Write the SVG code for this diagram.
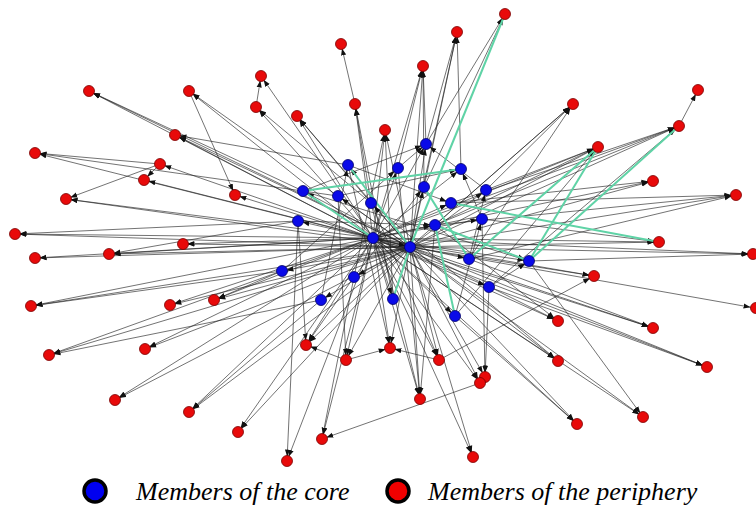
<svg xmlns="http://www.w3.org/2000/svg" width="756" height="509" viewBox="0 0 756 509">
<defs>
<marker id="a" markerUnits="userSpaceOnUse" markerWidth="13" markerHeight="6" refX="11.5" refY="3" orient="auto"><path d="M0,0.4 L7,3 L0,5.6 z" fill="#111"/></marker>
<style>
.e line{stroke:#222;stroke-width:.75;stroke-opacity:.85;marker-end:url(#a)}
.g line{stroke:#5fd3a6;stroke-width:2}
.c{fill:#0a0ae8;stroke:#00006a;stroke-width:.8}
.p{fill:#e80a0a;stroke:#7a0000;stroke-width:.8}
.lt{font-family:"Liberation Serif","Times New Roman",serif;font-style:italic;font-size:26px;fill:#000}
</style>
</defs>
<rect width="756" height="509" fill="#fff"/>
<g id="connectors">
<g class="e">
<line x1="426" y1="144" x2="505" y2="14"/>
<line x1="424" y1="187" x2="505" y2="14"/>
<line x1="426" y1="144" x2="457" y2="32"/>
<line x1="424" y1="187" x2="457" y2="32"/>
<line x1="410" y1="247" x2="457" y2="32"/>
<line x1="461" y1="169" x2="457" y2="32"/>
<line x1="355" y1="104" x2="341" y2="44"/>
<line x1="426" y1="144" x2="423" y2="66"/>
<line x1="398" y1="168" x2="423" y2="66"/>
<line x1="424" y1="187" x2="423" y2="66"/>
<line x1="410" y1="247" x2="423" y2="66"/>
<line x1="373" y1="238" x2="423" y2="66"/>
<line x1="373" y1="238" x2="261" y2="76"/>
<line x1="256" y1="107" x2="261" y2="76"/>
<line x1="373" y1="238" x2="89" y2="91"/>
<line x1="410" y1="247" x2="89" y2="91"/>
<line x1="303" y1="191" x2="89" y2="91"/>
<line x1="373" y1="238" x2="189" y2="91"/>
<line x1="410" y1="247" x2="189" y2="91"/>
<line x1="373" y1="238" x2="256" y2="107"/>
<line x1="371" y1="203" x2="256" y2="107"/>
<line x1="373" y1="238" x2="355" y2="104"/>
<line x1="371" y1="203" x2="355" y2="104"/>
<line x1="393" y1="299" x2="355" y2="104"/>
<line x1="410" y1="247" x2="573" y2="104"/>
<line x1="435" y1="225" x2="573" y2="104"/>
<line x1="469" y1="259" x2="573" y2="104"/>
<line x1="486" y1="190" x2="573" y2="104"/>
<line x1="679" y1="126" x2="698" y2="90"/>
<line x1="373" y1="238" x2="297" y2="116"/>
<line x1="410" y1="247" x2="297" y2="116"/>
<line x1="371" y1="203" x2="297" y2="116"/>
<line x1="373" y1="238" x2="385" y2="130"/>
<line x1="410" y1="247" x2="385" y2="130"/>
<line x1="393" y1="299" x2="385" y2="130"/>
<line x1="354" y1="277" x2="385" y2="130"/>
<line x1="373" y1="238" x2="175" y2="135"/>
<line x1="410" y1="247" x2="175" y2="135"/>
<line x1="348" y1="165" x2="175" y2="135"/>
<line x1="410" y1="247" x2="679" y2="126"/>
<line x1="373" y1="238" x2="679" y2="126"/>
<line x1="435" y1="225" x2="679" y2="126"/>
<line x1="451" y1="203" x2="679" y2="126"/>
<line x1="489" y1="287" x2="679" y2="126"/>
<line x1="410" y1="247" x2="598" y2="147"/>
<line x1="373" y1="238" x2="598" y2="147"/>
<line x1="435" y1="225" x2="598" y2="147"/>
<line x1="455" y1="316" x2="598" y2="147"/>
<line x1="486" y1="190" x2="598" y2="147"/>
<line x1="373" y1="238" x2="35" y2="153"/>
<line x1="160" y1="164" x2="35" y2="153"/>
<line x1="338" y1="196" x2="35" y2="153"/>
<line x1="373" y1="238" x2="160" y2="164"/>
<line x1="410" y1="247" x2="144" y2="180"/>
<line x1="160" y1="164" x2="144" y2="180"/>
<line x1="373" y1="238" x2="235" y2="195"/>
<line x1="189" y1="91" x2="235" y2="195"/>
<line x1="410" y1="247" x2="653" y2="181"/>
<line x1="373" y1="238" x2="653" y2="181"/>
<line x1="451" y1="203" x2="653" y2="181"/>
<line x1="410" y1="247" x2="736" y2="195"/>
<line x1="469" y1="259" x2="736" y2="195"/>
<line x1="435" y1="225" x2="736" y2="195"/>
<line x1="451" y1="203" x2="736" y2="195"/>
<line x1="373" y1="238" x2="66" y2="199"/>
<line x1="160" y1="164" x2="66" y2="199"/>
<line x1="410" y1="247" x2="66" y2="199"/>
<line x1="373" y1="238" x2="15" y2="234"/>
<line x1="410" y1="247" x2="15" y2="234"/>
<line x1="298" y1="221" x2="15" y2="234"/>
<line x1="373" y1="238" x2="183" y2="244"/>
<line x1="410" y1="247" x2="183" y2="244"/>
<line x1="410" y1="247" x2="659" y2="242"/>
<line x1="373" y1="238" x2="659" y2="242"/>
<line x1="482" y1="219" x2="659" y2="242"/>
<line x1="373" y1="238" x2="35" y2="258"/>
<line x1="410" y1="247" x2="35" y2="258"/>
<line x1="373" y1="238" x2="109" y2="254"/>
<line x1="410" y1="247" x2="109" y2="254"/>
<line x1="298" y1="221" x2="109" y2="254"/>
<line x1="410" y1="247" x2="753" y2="254"/>
<line x1="373" y1="238" x2="753" y2="254"/>
<line x1="529" y1="261" x2="753" y2="254"/>
<line x1="373" y1="238" x2="31" y2="306"/>
<line x1="410" y1="247" x2="31" y2="306"/>
<line x1="282" y1="271" x2="31" y2="306"/>
<line x1="373" y1="238" x2="170" y2="305"/>
<line x1="410" y1="247" x2="170" y2="305"/>
<line x1="373" y1="238" x2="214" y2="300"/>
<line x1="410" y1="247" x2="214" y2="300"/>
<line x1="282" y1="271" x2="214" y2="300"/>
<line x1="410" y1="247" x2="594" y2="276"/>
<line x1="373" y1="238" x2="594" y2="276"/>
<line x1="439" y1="360" x2="594" y2="276"/>
<line x1="410" y1="247" x2="755" y2="308"/>
<line x1="373" y1="238" x2="49" y2="355"/>
<line x1="410" y1="247" x2="49" y2="355"/>
<line x1="321" y1="300" x2="49" y2="355"/>
<line x1="373" y1="238" x2="145" y2="349"/>
<line x1="410" y1="247" x2="145" y2="349"/>
<line x1="373" y1="238" x2="306" y2="345"/>
<line x1="410" y1="247" x2="306" y2="345"/>
<line x1="298" y1="221" x2="306" y2="345"/>
<line x1="354" y1="277" x2="306" y2="345"/>
<line x1="346" y1="360" x2="306" y2="345"/>
<line x1="373" y1="238" x2="346" y2="360"/>
<line x1="410" y1="247" x2="346" y2="360"/>
<line x1="338" y1="196" x2="346" y2="360"/>
<line x1="373" y1="238" x2="390" y2="348"/>
<line x1="410" y1="247" x2="390" y2="348"/>
<line x1="346" y1="360" x2="390" y2="348"/>
<line x1="439" y1="360" x2="390" y2="348"/>
<line x1="348" y1="165" x2="390" y2="348"/>
<line x1="373" y1="238" x2="439" y2="360"/>
<line x1="410" y1="247" x2="439" y2="360"/>
<line x1="371" y1="203" x2="439" y2="360"/>
<line x1="410" y1="247" x2="558" y2="321"/>
<line x1="373" y1="238" x2="558" y2="321"/>
<line x1="435" y1="225" x2="558" y2="321"/>
<line x1="410" y1="247" x2="653" y2="328"/>
<line x1="373" y1="238" x2="653" y2="328"/>
<line x1="469" y1="259" x2="653" y2="328"/>
<line x1="410" y1="247" x2="558" y2="361"/>
<line x1="373" y1="238" x2="558" y2="361"/>
<line x1="371" y1="203" x2="558" y2="361"/>
<line x1="410" y1="247" x2="707" y2="367"/>
<line x1="373" y1="238" x2="707" y2="367"/>
<line x1="489" y1="287" x2="707" y2="367"/>
<line x1="373" y1="238" x2="115" y2="400"/>
<line x1="410" y1="247" x2="115" y2="400"/>
<line x1="373" y1="238" x2="189" y2="412"/>
<line x1="410" y1="247" x2="189" y2="412"/>
<line x1="321" y1="300" x2="189" y2="412"/>
<line x1="373" y1="238" x2="238" y2="432"/>
<line x1="410" y1="247" x2="238" y2="432"/>
<line x1="373" y1="238" x2="322" y2="439"/>
<line x1="354" y1="277" x2="322" y2="439"/>
<line x1="480" y1="383" x2="322" y2="439"/>
<line x1="298" y1="221" x2="287" y2="461"/>
<line x1="373" y1="238" x2="287" y2="461"/>
<line x1="373" y1="238" x2="420" y2="399"/>
<line x1="410" y1="247" x2="420" y2="399"/>
<line x1="398" y1="168" x2="420" y2="399"/>
<line x1="371" y1="203" x2="420" y2="399"/>
<line x1="435" y1="225" x2="420" y2="399"/>
<line x1="489" y1="287" x2="485" y2="377"/>
<line x1="410" y1="247" x2="485" y2="377"/>
<line x1="482" y1="219" x2="485" y2="377"/>
<line x1="373" y1="238" x2="480" y2="383"/>
<line x1="410" y1="247" x2="480" y2="383"/>
<line x1="410" y1="247" x2="473" y2="457"/>
<line x1="373" y1="238" x2="473" y2="457"/>
<line x1="410" y1="247" x2="643" y2="417"/>
<line x1="373" y1="238" x2="643" y2="417"/>
<line x1="410" y1="247" x2="577" y2="424"/>
<line x1="373" y1="238" x2="577" y2="424"/>
<line x1="455" y1="316" x2="577" y2="424"/>
<line x1="373" y1="238" x2="426" y2="144"/>
<line x1="410" y1="247" x2="426" y2="144"/>
<line x1="410" y1="247" x2="348" y2="165"/>
<line x1="373" y1="238" x2="398" y2="168"/>
<line x1="373" y1="238" x2="461" y2="169"/>
<line x1="410" y1="247" x2="424" y2="187"/>
<line x1="410" y1="247" x2="486" y2="190"/>
<line x1="410" y1="247" x2="303" y2="191"/>
<line x1="410" y1="247" x2="338" y2="196"/>
<line x1="410" y1="247" x2="371" y2="203"/>
<line x1="373" y1="238" x2="451" y2="203"/>
<line x1="410" y1="247" x2="298" y2="221"/>
<line x1="373" y1="238" x2="435" y2="225"/>
<line x1="373" y1="238" x2="482" y2="219"/>
<line x1="373" y1="238" x2="469" y2="259"/>
<line x1="373" y1="238" x2="529" y2="261"/>
<line x1="410" y1="247" x2="282" y2="271"/>
<line x1="410" y1="247" x2="354" y2="277"/>
<line x1="373" y1="238" x2="489" y2="287"/>
<line x1="410" y1="247" x2="321" y2="300"/>
<line x1="373" y1="238" x2="393" y2="299"/>
<line x1="373" y1="238" x2="455" y2="316"/>
<line x1="373" y1="238" x2="410" y2="247"/>
<line x1="303" y1="191" x2="426" y2="144"/>
<line x1="338" y1="196" x2="461" y2="169"/>
<line x1="398" y1="168" x2="426" y2="144"/>
<line x1="348" y1="165" x2="451" y2="203"/>
<line x1="486" y1="190" x2="426" y2="144"/>
<line x1="482" y1="219" x2="461" y2="169"/>
<line x1="435" y1="225" x2="529" y2="261"/>
<line x1="321" y1="300" x2="348" y2="165"/>
<line x1="282" y1="271" x2="398" y2="168"/>
<line x1="469" y1="259" x2="486" y2="190"/>
<line x1="455" y1="316" x2="482" y2="219"/>
<line x1="298" y1="221" x2="435" y2="225"/>
<line x1="354" y1="277" x2="424" y2="187"/>
<line x1="489" y1="287" x2="529" y2="261"/>
<line x1="303" y1="191" x2="529" y2="261"/>
<line x1="529" y1="261" x2="643" y2="417"/>
</g>
<g class="g">
<line x1="410" y1="247" x2="505" y2="14"/>
<line x1="303" y1="191" x2="461" y2="169"/>
<line x1="303" y1="191" x2="373" y2="238"/>
<line x1="348" y1="165" x2="410" y2="247"/>
<line x1="451" y1="203" x2="659" y2="242"/>
<line x1="679" y1="126" x2="529" y2="261"/>
<line x1="598" y1="147" x2="469" y2="259"/>
<line x1="598" y1="147" x2="529" y2="261"/>
<line x1="435" y1="225" x2="455" y2="316"/>
<line x1="410" y1="247" x2="393" y2="299"/>
<line x1="424" y1="187" x2="469" y2="259"/>
<line x1="435" y1="225" x2="529" y2="261"/>
</g>
</g>
<g id="core">
<g id="b1"><circle class="c" cx="426" cy="144" r="5.5"/></g>
<g id="b2"><circle class="c" cx="348" cy="165" r="5.5"/></g>
<g id="b3"><circle class="c" cx="398" cy="168" r="5.5"/></g>
<g id="b4"><circle class="c" cx="461" cy="169" r="5.5"/></g>
<g id="b5"><circle class="c" cx="424" cy="187" r="5.5"/></g>
<g id="b6"><circle class="c" cx="486" cy="190" r="5.5"/></g>
<g id="b7"><circle class="c" cx="303" cy="191" r="5.5"/></g>
<g id="b8"><circle class="c" cx="338" cy="196" r="5.5"/></g>
<g id="b9"><circle class="c" cx="371" cy="203" r="5.5"/></g>
<g id="b10"><circle class="c" cx="451" cy="203" r="5.5"/></g>
<g id="b11"><circle class="c" cx="298" cy="221" r="5.5"/></g>
<g id="b12"><circle class="c" cx="435" cy="225" r="5.5"/></g>
<g id="b13"><circle class="c" cx="482" cy="219" r="5.5"/></g>
<g id="b14"><circle class="c" cx="373" cy="238" r="5.5"/></g>
<g id="b15"><circle class="c" cx="410" cy="247" r="5.5"/></g>
<g id="b16"><circle class="c" cx="469" cy="259" r="5.5"/></g>
<g id="b17"><circle class="c" cx="529" cy="261" r="5.5"/></g>
<g id="b18"><circle class="c" cx="282" cy="271" r="5.5"/></g>
<g id="b19"><circle class="c" cx="354" cy="277" r="5.5"/></g>
<g id="b20"><circle class="c" cx="489" cy="287" r="5.5"/></g>
<g id="b21"><circle class="c" cx="321" cy="300" r="5.5"/></g>
<g id="b22"><circle class="c" cx="393" cy="299" r="5.5"/></g>
<g id="b23"><circle class="c" cx="455" cy="316" r="5.5"/></g>
</g>
<g id="periphery">
<g id="p1"><circle class="p" cx="505" cy="14" r="5.5"/></g>
<g id="p2"><circle class="p" cx="457" cy="32" r="5.5"/></g>
<g id="p3"><circle class="p" cx="341" cy="44" r="5.5"/></g>
<g id="p4"><circle class="p" cx="423" cy="66" r="5.5"/></g>
<g id="p5"><circle class="p" cx="261" cy="76" r="5.5"/></g>
<g id="p6"><circle class="p" cx="89" cy="91" r="5.5"/></g>
<g id="p7"><circle class="p" cx="189" cy="91" r="5.5"/></g>
<g id="p8"><circle class="p" cx="256" cy="107" r="5.5"/></g>
<g id="p9"><circle class="p" cx="355" cy="104" r="5.5"/></g>
<g id="p10"><circle class="p" cx="573" cy="104" r="5.5"/></g>
<g id="p11"><circle class="p" cx="698" cy="90" r="5.5"/></g>
<g id="p12"><circle class="p" cx="297" cy="116" r="5.5"/></g>
<g id="p13"><circle class="p" cx="385" cy="130" r="5.5"/></g>
<g id="p14"><circle class="p" cx="175" cy="135" r="5.5"/></g>
<g id="p15"><circle class="p" cx="679" cy="126" r="5.5"/></g>
<g id="p16"><circle class="p" cx="598" cy="147" r="5.5"/></g>
<g id="p17"><circle class="p" cx="35" cy="153" r="5.5"/></g>
<g id="p18"><circle class="p" cx="160" cy="164" r="5.5"/></g>
<g id="p19"><circle class="p" cx="144" cy="180" r="5.5"/></g>
<g id="p20"><circle class="p" cx="235" cy="195" r="5.5"/></g>
<g id="p21"><circle class="p" cx="653" cy="181" r="5.5"/></g>
<g id="p22"><circle class="p" cx="736" cy="195" r="5.5"/></g>
<g id="p23"><circle class="p" cx="66" cy="199" r="5.5"/></g>
<g id="p24"><circle class="p" cx="15" cy="234" r="5.5"/></g>
<g id="p25"><circle class="p" cx="183" cy="244" r="5.5"/></g>
<g id="p26"><circle class="p" cx="659" cy="242" r="5.5"/></g>
<g id="p27"><circle class="p" cx="35" cy="258" r="5.5"/></g>
<g id="p28"><circle class="p" cx="109" cy="254" r="5.5"/></g>
<g id="p29"><circle class="p" cx="753" cy="254" r="5.5"/></g>
<g id="p30"><circle class="p" cx="31" cy="306" r="5.5"/></g>
<g id="p31"><circle class="p" cx="170" cy="305" r="5.5"/></g>
<g id="p32"><circle class="p" cx="214" cy="300" r="5.5"/></g>
<g id="p33"><circle class="p" cx="594" cy="276" r="5.5"/></g>
<g id="p34"><circle class="p" cx="756" cy="308" r="5.5"/></g>
<g id="p35"><circle class="p" cx="49" cy="355" r="5.5"/></g>
<g id="p36"><circle class="p" cx="145" cy="349" r="5.5"/></g>
<g id="p37"><circle class="p" cx="306" cy="345" r="5.5"/></g>
<g id="p38"><circle class="p" cx="346" cy="360" r="5.5"/></g>
<g id="p39"><circle class="p" cx="390" cy="348" r="5.5"/></g>
<g id="p40"><circle class="p" cx="439" cy="360" r="5.5"/></g>
<g id="p41"><circle class="p" cx="558" cy="321" r="5.5"/></g>
<g id="p42"><circle class="p" cx="653" cy="328" r="5.5"/></g>
<g id="p43"><circle class="p" cx="558" cy="361" r="5.5"/></g>
<g id="p44"><circle class="p" cx="707" cy="367" r="5.5"/></g>
<g id="p45"><circle class="p" cx="115" cy="400" r="5.5"/></g>
<g id="p46"><circle class="p" cx="189" cy="412" r="5.5"/></g>
<g id="p47"><circle class="p" cx="238" cy="432" r="5.5"/></g>
<g id="p48"><circle class="p" cx="322" cy="439" r="5.5"/></g>
<g id="p49"><circle class="p" cx="287" cy="461" r="5.5"/></g>
<g id="p50"><circle class="p" cx="420" cy="399" r="5.5"/></g>
<g id="p51"><circle class="p" cx="485" cy="377" r="5.5"/></g>
<g id="p52"><circle class="p" cx="480" cy="383" r="5.5"/></g>
<g id="p53"><circle class="p" cx="473" cy="457" r="5.5"/></g>
<g id="p54"><circle class="p" cx="643" cy="417" r="5.5"/></g>
<g id="p55"><circle class="p" cx="577" cy="424" r="5.5"/></g>
</g>
<g id="legend">
<g id="legend-core"><circle cx="95" cy="491" r="11" fill="#0000f0" stroke="#000" stroke-width="3.5"/><text class="lt" x="136" y="500">Members of the core</text></g>
<g id="legend-periphery"><circle cx="398" cy="491" r="11" fill="#f00000" stroke="#000" stroke-width="3.5"/><text class="lt" x="428" y="500">Members of the periphery</text></g>
</g>
</svg>
